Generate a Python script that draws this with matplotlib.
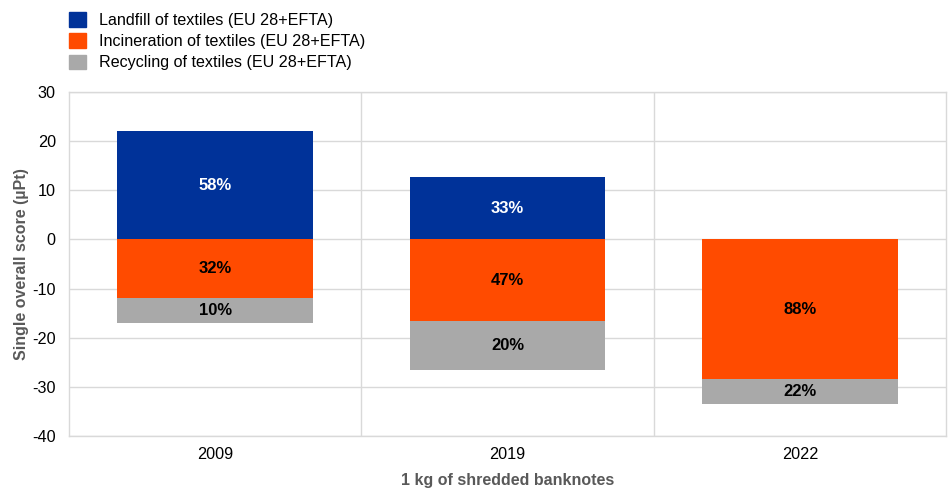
import matplotlib
matplotlib.use("Agg")
import matplotlib.pyplot as plt
from matplotlib.patches import Patch
import numpy as np

plt.rcParams['font.family'] = ['Liberation Sans', 'DejaVu Sans']
plt.rcParams['axes.unicode_minus'] = False

categories = ["2009", "2019", "2022"]
landfill = [22.0, 12.7, 0.0]
incineration = [-11.9, -16.6, -28.4]
recycling = [-5.1, -10.0, -5.1]
landfill_pct = ["58%", "33%", ""]
incin_pct = ["32%", "47%", "88%"]
recyc_pct = ["10%", "20%", "22%"]
series_names = ["Landfill of textiles (EU 28+EFTA)",
                "Incineration of textiles (EU 28+EFTA)",
                "Recycling of textiles (EU 28+EFTA)"]

c_land = "#003299"
c_inc = "#FF4B00"
c_rec = "#A9A9A9"

fig = plt.figure(figsize=(9.49, 4.94), dpi=100)
ax = fig.add_axes([69/949, 1 - 436/494, (946-69)/949, (436-92)/494])

x = np.arange(len(categories))
w = 0.67
inc = np.array(incineration)
rec = np.array(recycling)
ax.bar(x, landfill, w, color=c_land, zorder=3)
ax.bar(x, inc, w, color=c_inc, zorder=3)
ax.bar(x, rec, w, bottom=inc, color=c_rec, zorder=3)

for i in range(len(x)):
    if landfill[i] > 0:
        ax.text(x[i], landfill[i]/2, landfill_pct[i], ha='center', va='center',
                color='white', fontsize=12, fontweight='bold', zorder=4)
    ax.text(x[i], inc[i]/2, incin_pct[i], ha='center', va='center',
            color='black', fontsize=12, fontweight='bold', zorder=4)
    ax.text(x[i], inc[i] + rec[i]/2, recyc_pct[i], ha='center', va='center',
            color='black', fontsize=12, fontweight='bold', zorder=4)

ax.set_xlim(-0.5, len(categories) - 0.5)
ax.set_ylim(-40, 30)
ax.set_yticks(range(-40, 31, 10))
ax.set_xticks(x)
ax.set_xticklabels(categories)
ax.tick_params(axis='both', length=0, labelsize=11.7, colors='black', pad=8)
ax.tick_params(axis='y', pad=9.5)
ax.yaxis.grid(True, color='#D9D9D9', linewidth=1, zorder=0)
for b in [0.5, 1.5]:
    ax.axvline(b, color='#D9D9D9', linewidth=1, zorder=0)
for s in ax.spines.values():
    s.set_color('#D9D9D9')
    s.set_linewidth(1)

ax.set_ylabel("Single overall score (µPt)", fontsize=11.5, fontweight='bold', color='#595959', labelpad=2)
ax.set_xlabel("1 kg of shredded banknotes", fontsize=11.5, fontweight='bold', color='#595959', labelpad=8)

handles = [Patch(color=c_land), Patch(color=c_inc), Patch(color=c_rec)]
fig.legend(handles, series_names, loc='upper left', bbox_to_anchor=(63/949, 1 - 6/494),
           frameon=False, fontsize=11.6, handlelength=1.0, handleheight=1.0,
           handletextpad=0.85, labelspacing=0.33, borderaxespad=0)

fig.savefig("out.png", dpi=100)
